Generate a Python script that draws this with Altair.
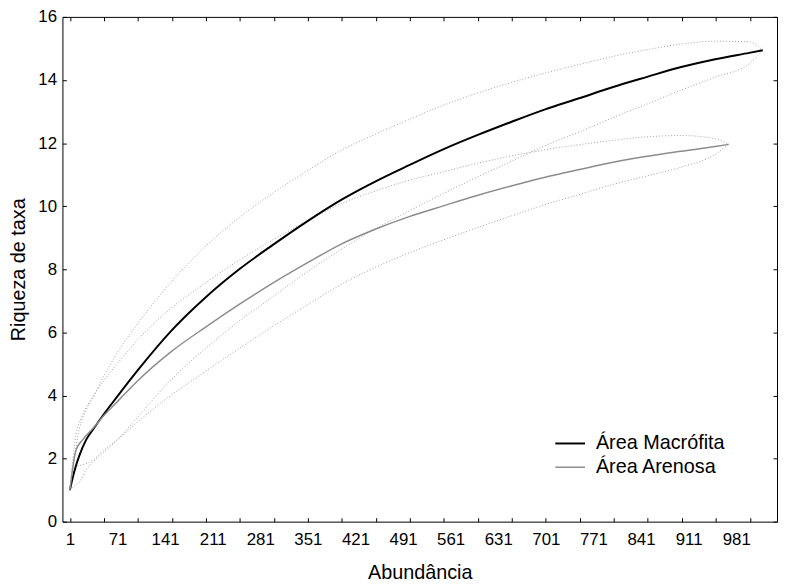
import altair as alt
import pandas as pd

# ---- data ----
series_names = ["Área Macrófita", "Área Arenosa"]

x_mac = [1, 5, 10, 15, 25, 35, 50, 70, 100, 150, 200, 250, 300, 350, 400, 450,
         500, 550, 600, 650, 700, 750, 800, 850, 900, 950, 1000, 1020]
mean_mac = [1.0, 1.38, 1.78, 2.1, 2.6, 2.92, 3.38, 3.95, 4.78, 6.05, 7.1, 8.0,
            8.78, 9.52, 10.2, 10.78, 11.3, 11.8, 12.25, 12.67, 13.07, 13.42, 13.78,
            14.1, 14.41, 14.66, 14.86, 14.94]
half_mac = [0.0, 0.3, 0.6, 0.85, 0.95, 1.02, 1.2, 1.38, 1.48, 1.55, 1.62, 1.64,
            1.64, 1.6, 1.57, 1.5, 1.45, 1.4, 1.33, 1.25, 1.15, 1.07, 0.97, 0.86, 0.73,
            0.57, 0.35, 0.0]

x_are = [1, 10, 20, 35, 50, 75, 100, 150, 200, 250, 300, 350, 400, 450, 500, 550,
         600, 650, 700, 750, 800, 850, 900, 950, 970]
mean_are = [1.0, 2.27, 2.6, 2.96, 3.34, 3.9, 4.45, 5.39, 6.16, 6.89, 7.57, 8.2, 8.8,
            9.27, 9.67, 10.01, 10.34, 10.64, 10.92, 11.16, 11.39, 11.58, 11.74, 11.89,
            11.96]
half_are = [0.0, 0.5, 0.8, 1.0, 1.1, 1.22, 1.3, 1.38, 1.4, 1.4, 1.37, 1.33, 1.28, 1.21,
            1.15, 1.08, 1.02, 0.95, 0.87, 0.79, 0.7, 0.62, 0.5, 0.25, 0.0]

x_label_values = [1, 71, 141, 211, 281, 351, 421, 491, 561, 631, 701, 771, 841, 911, 981]
x_tick_values = list(range(1, 1002, 50))
y_values = [0, 2, 4, 6, 8, 10, 12, 14, 16]

# ---- tables ----
mean_rows, upper_rows, lower_rows = [], [], []
for name, xs, ms, hs in [(series_names[0], x_mac, mean_mac, half_mac),
                         (series_names[1], x_are, mean_are, half_are)]:
    for x, m, h in zip(xs, ms, hs):
        mean_rows.append({"x": x, "y": m, "serie": name})
        upper_rows.append({"x": x, "y": m + h, "serie": name})
        lower_rows.append({"x": x, "y": m - h, "serie": name})
df_mean = pd.DataFrame(mean_rows)
df_up = pd.DataFrame(upper_rows)
df_lo = pd.DataFrame(lower_rows)

FONT = "Liberation Sans"
xscale = alt.Scale(domain=[-10, 1041], nice=False, zero=False)
yscale = alt.Scale(domain=[0, 16], nice=False, zero=False)

dotted = dict(strokeDash=[1, 2], strokeWidth=1, color="#a0a0a0", interpolate="monotone")

upper = alt.Chart(df_up).mark_line(**dotted).encode(
    x=alt.X("x:Q", scale=xscale,
            axis=alt.Axis(values=x_label_values, orient="bottom", ticks=False, tickSize=0,
                          domain=False, grid=False, labelFontSize=17, labelPadding=10,
                          labelFlush=False, labelOverlap=False, title="Abundância",
                          titleFontSize=20, titlePadding=15)),
    y=alt.Y("y:Q", scale=yscale,
            axis=alt.Axis(values=y_values, orient="left", offset=-4, tickSize=4,
                          domain=False, grid=False, labelFontSize=17, labelPadding=6,
                          labelFlush=False, labelOverlap=False, title="Riqueza de taxa",
                          titleFontSize=20, titlePadding=9)),
    detail="serie:N",
)

lower = alt.Chart(df_lo).mark_line(**dotted).encode(
    x=alt.X("x:Q", scale=xscale,
            axis=alt.Axis(values=x_tick_values, orient="top", offset=-4, tickSize=4,
                          labels=False, domain=False, grid=False, title=None)),
    y=alt.Y("y:Q", scale=yscale, axis=None),
    detail="serie:N",
)

means = alt.Chart(df_mean).mark_line(interpolate="monotone").encode(
    x=alt.X("x:Q", scale=xscale,
            axis=alt.Axis(values=x_tick_values, orient="bottom", offset=-4, tickSize=4,
                          labels=False, domain=False, grid=False, title=None)),
    y=alt.Y("y:Q", scale=yscale,
            axis=alt.Axis(values=y_values, orient="right", offset=-4, tickSize=4,
                          labels=False, domain=False, grid=False, title=None)),
    color=alt.Color("serie:N",
                    scale=alt.Scale(domain=series_names, range=["#000000", "#8c8c8c"]),
                    legend=alt.Legend(orient="none", legendX=502, legendY=420, title=None,
                                      padding=0, labelFontSize=20, labelFont=FONT,
                                      symbolType="M-1.5,0L1.5,0", symbolSize=400,
                                      symbolStrokeWidth=2, labelOffset=15, rowPadding=3)),
    strokeWidth=alt.StrokeWidth("serie:N",
                                scale=alt.Scale(domain=series_names, range=[2, 1.5]),
                                legend=None),
)

chart = (
    alt.layer(upper, lower, means)
    .resolve_axis(x="independent", y="independent")
    .properties(width=722, height=510,
                padding={"left": 55, "top": 6, "right": 1, "bottom": 61},
                autosize=alt.AutoSizeParams(type="none"))
    .configure_view(stroke="black", strokeWidth=1)
    .configure_axis(labelFont=FONT, titleFont=FONT, titleFontWeight="normal",
                    labelColor="black", titleColor="black", tickColor="black",
                    tickWidth=1)
    .configure_legend(labelColor="black")
)

chart.save("out.html", embed_options={"renderer": "svg", "actions": False})
